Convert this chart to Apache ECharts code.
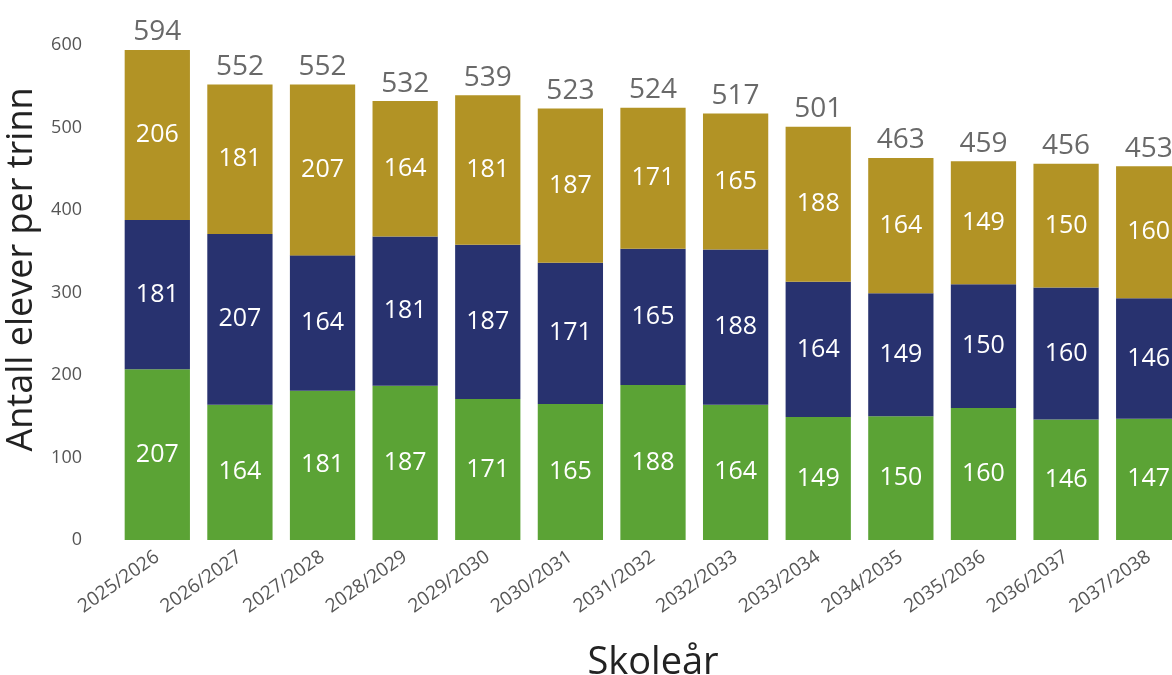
<!DOCTYPE html>
<html>
<head>
<meta charset="utf-8">
<script src="https://cdn.jsdelivr.net/npm/echarts@6/dist/echarts.min.js"></script>
<style>
html,body{margin:0;padding:0;background:#fff;}
#main{width:1172px;height:675px;}
</style>
</head>
<body>
<div id="main"></div>
<script>
var years = ['2025/2026','2026/2027','2027/2028','2028/2029','2029/2030','2030/2031','2031/2032','2032/2033','2033/2034','2034/2035','2035/2036','2036/2037','2037/2038'];
var green = [207,164,181,187,171,165,188,164,149,150,160,146,147];
var navy = [181,207,164,181,187,171,165,188,164,149,150,160,146];
var gold = [206,181,207,164,181,187,171,165,188,164,149,150,160];
var totals = [594,552,552,532,539,523,524,517,501,463,459,456,453];

var font = 'Open Sans';
var inLabel = {show:true,position:'inside',color:'#fff',fontSize:25,fontFamily:font};

function barSeries(name,data,color){
	return {
		name:name,
		type:'bar',
		stack:'tot',
		barCategoryGap:'21%',
		data:data,
		itemStyle:{color:color},
		label:inLabel,
		silent:true
	};
}

var myChart = echarts.init(document.getElementById('main'));
var option = {
	backgroundColor:'#fff',
	animation:false,
	grid:{left:116,right:-18,top:45,bottom:135,outerBoundsMode:'none',containLabel:false},
	xAxis:{
		type:'category',
		data:years,
		axisLine:{show:false},
		axisTick:{show:false},
		axisLabel:{rotate:35,color:'#555',fontSize:19,fontFamily:font,margin:15,interval:0},
		name:'Skoleår',
		nameLocation:'middle',
		nameGap:104,
		nameTextStyle:{fontSize:38,color:'#222',fontFamily:font}
	},
	yAxis:{
		type:'value',
		min:0,max:600,interval:100,
		splitLine:{show:false},
		axisLine:{show:false},
		axisLabel:{color:'#555',fontSize:18,fontFamily:font,margin:34},
		name:'Antall elever per trinn',
		nameLocation:'middle',
		nameGap:70,
		nameTextStyle:{fontSize:36,color:'#222',fontFamily:font,padding:[0,0,0,46]}
	},
	series:[
		barSeries('green',green,'#5BA335'),
		barSeries('navy',navy,'#28326F'),
		barSeries('gold',gold,'#B29325'),
		{
			name:'total',
			type:'scatter',
			data:totals,
			symbolSize:1,
			itemStyle:{color:'rgba(0,0,0,0)'},
			label:{show:true,position:'top',distance:3,color:'#444',fontSize:28,fontFamily:font},
			silent:true
		}
	]
};
myChart.setOption(option);
</script>
</body>
</html>
